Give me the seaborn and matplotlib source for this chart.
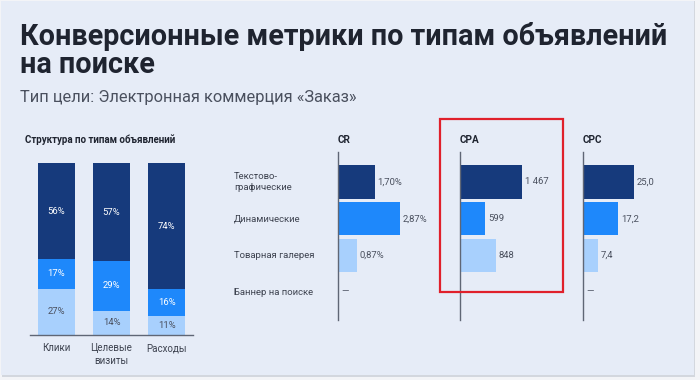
import matplotlib
matplotlib.use("Agg")
import matplotlib.pyplot as plt
import seaborn as sns
import pandas as pd
import numpy as np
from matplotlib.patches import Rectangle

# ---------------- data ----------------
struct_cats = ["Клики", "Целевые\nвизиты", "Расходы"]
share_text = [56, 57, 74]      # Текстово-графические (dark)
share_dyn = [17, 29, 16]       # Динамические (mid)
share_gal = [27, 14, 11]       # Товарная галерея (light)

ad_types = ["Текстово-\nграфические", "Динамические", "Товарная галерея", "Баннер на поиске"]
cr_values = [1.70, 2.87, 0.87, np.nan]
cr_labels = ["1,70%", "2,87%", "0,87%", "—"]
cpa_values = [1467, 599, 848, np.nan]
cpa_labels = ["1 467", "599", "848", ""]
cpc_values = [25.0, 17.2, 7.4, np.nan]
cpc_labels = ["25,0", "17,2", "7,4", "—"]

title_1 = "Конверсионные метрики по типам объявлений"
title_2 = "на поиске"
subtitle = "Тип цели: Электронная коммерция «Заказ»"
struct_title = "Структура по типам объявлений"

# ---------------- style ----------------
DARK = "#163A7C"
MID = "#1E88FB"
LIGHT = "#A8D0FD"
CARD = "#E6ECF7"
TXT = "#1F2430"
GRAY = "#4A505E"
AXIS = "#5F6675"

sns.set_style("white")
plt.rcParams["font.family"] = ["Roboto", "DejaVu Sans"]

W, H = 700, 380
fig = plt.figure(figsize=(W / 100, H / 100), dpi=100)
fig.patch.set_facecolor("#F3F4F7")

def fx(x):
    return x / W

def fy(y):
    return 1 - y / H

def ax_rect(x0, y0, x1, y1):
    return [fx(x0), fy(y1), fx(x1) - fx(x0), fy(y0) - fy(y1)]

# card + shadow
fig.patches.append(Rectangle((fx(2), fy(377)), fx(695) - fx(2), fy(1) - fy(377),
                             transform=fig.transFigure, facecolor="#D3D7DE",
                             edgecolor="none", zorder=-3))
fig.patches.append(Rectangle((fx(1), fy(375)), fx(694) - fx(1), fy(1) - fy(375),
                             transform=fig.transFigure, facecolor=CARD,
                             edgecolor="none", zorder=-2))

# titles
fig.text(fx(20), fy(45), title_1, fontsize=20.7, fontweight="bold", color=TXT, va="baseline")
fig.text(fx(20), fy(73), title_2, fontsize=20.7, fontweight="bold", color=TXT, va="baseline")
fig.text(fx(20), fy(102), subtitle, fontsize=11.8, color=GRAY, va="baseline")
fig.text(fx(25), fy(140), struct_title, fontsize=7.0, fontweight="bold", color=TXT, va="center")

# ---------------- left stacked chart ----------------
axL = fig.add_axes(ax_rect(30, 163, 193, 335))
axL.set_facecolor("none")
df = pd.DataFrame({"cat": struct_cats, "a": share_text, "b": share_dyn, "c": share_gal})
tot = df[["a", "b", "c"]].sum(axis=1)
df["c_n"] = df["c"] / tot * 100
df["b_n"] = df["b"] / tot * 100
df["a_n"] = df["a"] / tot * 100
df["cum_c"] = df["c_n"]
df["cum_b"] = df["c_n"] + df["b_n"]
df["cum_a"] = df["cum_b"] + df["a_n"]

for col, colr in [("cum_a", DARK), ("cum_b", MID), ("cum_c", LIGHT)]:
    sns.barplot(data=df, x="cat", y=col, color=colr, width=0.67, ax=axL,
                linewidth=0, errorbar=None, saturation=1, order=struct_cats)

for i, row in df.iterrows():
    axL.text(i, row["c_n"] / 2, f"{row['c']}%", ha="center", va="center",
             fontsize=6.8, color=GRAY)
    axL.text(i, row["c_n"] + row["b_n"] / 2, f"{row['b']}%", ha="center", va="center",
             fontsize=6.8, color="white")
    axL.text(i, row["cum_b"] + row["a_n"] / 2, f"{row['a']}%", ha="center", va="center",
             fontsize=6.8, color="white")

axL.set_xlim(-0.48, 2.48)
axL.set_ylim(0, 100)
axL.set_xlabel("")
axL.set_ylabel("")
axL.set_yticks([])
for s in ["top", "right", "left"]:
    axL.spines[s].set_visible(False)
axL.spines["bottom"].set_color(AXIS)
axL.spines["bottom"].set_linewidth(1.0)
axL.tick_params(axis="x", length=0, pad=6, labelsize=7, labelcolor="#3E4350")
for lab in axL.get_xticklabels():
    lab.set_verticalalignment("top")
    lab.set_linespacing(1.3)

# ---------------- right horizontal panels ----------------
dfh = pd.DataFrame({"type": ad_types, "CR": cr_values, "CPA": cpa_values, "CPC": cpc_values})
palette = [DARK, MID, LIGHT, LIGHT]

panels = [
    ("CR", 338, 21.5, cr_labels),
    ("CPA", 460, 0.0423, cpa_labels),
    ("CPC", 583, 2.04, cpc_labels),
]
y_top, y_bot = 152, 320
spacing = 36.7
first_center = 182

for k, (name, x0, scale, labels) in enumerate(panels):
    ax = fig.add_axes(ax_rect(x0, y_top, x0 + 100, y_bot))
    ax.set_facecolor("none")
    sns.barplot(data=dfh, x=name, y="type", hue="type", palette=palette, order=ad_types,
                hue_order=ad_types, width=0.9, ax=ax, legend=False, linewidth=0,
                errorbar=None, saturation=1)
    ax.set_xlim(0, 100 / scale)
    ax.set_ylim((y_bot - first_center) / spacing, (y_top - first_center) / spacing)
    ax.set_xlabel("")
    ax.set_ylabel("")
    ax.set_xticks([])
    ax.set_yticks([])
    for s in ["top", "right", "bottom"]:
        ax.spines[s].set_visible(False)
    ax.spines["left"].set_color(AXIS)
    ax.spines["left"].set_linewidth(1.0)
    px = 1 / scale
    for i, (v, lab) in enumerate(zip(dfh[name], labels)):
        xv = 0 if np.isnan(v) else v
        ax.text(xv + 3 * px, i, lab, ha="left", va="center", fontsize=6.8, color=GRAY)
    fig.text(fx(x0), fy(140), name, fontsize=7.2, fontweight="bold", color=TXT, va="center")
    if k == 0:
        for i, t in enumerate(ad_types):
            ax.text(-104 * px, i, t, ha="left", va="center", fontsize=6.8,
                    color="#3E4350", linespacing=1.35, clip_on=False)

# red highlight frame
fig.patches.append(Rectangle((fx(440), fy(292)), fx(563) - fx(440), fy(119) - fy(292),
                             transform=fig.transFigure, facecolor="none",
                             edgecolor="#E0202B", linewidth=1.6, zorder=5))

fig.savefig("out.png", dpi=100, facecolor=fig.get_facecolor())
